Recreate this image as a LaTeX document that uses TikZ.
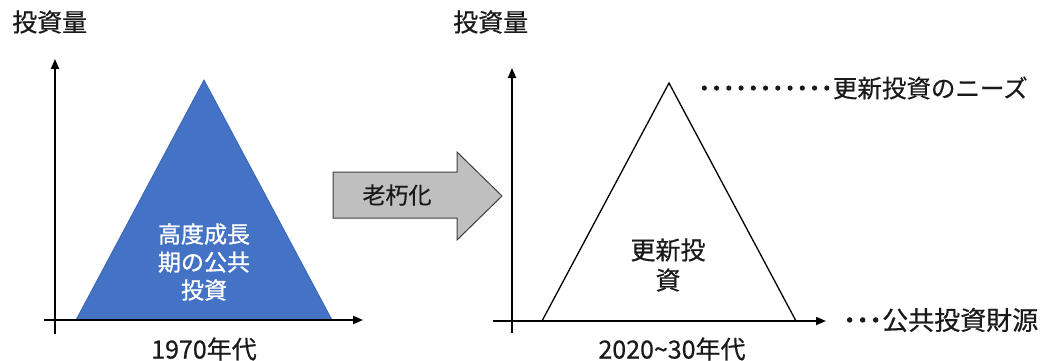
\documentclass[tikz,border=0pt]{standalone}
\usepackage{fontspec}
\newfontfamily\jp[FakeBold=0.6]{Noto Sans CJK JP}
\newfontfamily\jpw[FakeBold=1.2]{Noto Sans CJK JP}
\newfontfamily\jpdot[FakeBold=4]{Noto Sans CJK JP}
\usetikzlibrary{arrows.meta}
\definecolor{tblue}{HTML}{4472C4}
\definecolor{tblueedge}{HTML}{3A66B5}
\definecolor{agray}{HTML}{BFBFBF}
\definecolor{agrayedge}{HTML}{404040}
\definecolor{txt}{HTML}{1A1A1A}
\begin{document}
\begin{tikzpicture}[x=1pt,y=-1pt,
  axis/.style={line width=1.8pt, draw=black, -{Triangle[length=10pt,width=8pt]}},
  lbl/.style={font=\jp\fontsize{25}{28}\selectfont, inner sep=0pt, text=txt},
  inlbl/.style={font=\jp\fontsize{23}{28}\selectfont, inner sep=0pt, align=center}]
\useasboundingbox (0,0) rectangle (1041,361);

% ---------- left chart ----------
\coordinate (la) at (204,80);
\coordinate (lbl) at (76,320);
\coordinate (lbr) at (332,320);
\fill[tblue] (la) -- (lbl) -- (lbr) -- cycle;
\draw[tblueedge, line width=0.8pt] (la) -- (lbl) -- (lbr) -- cycle;

\coordinate (lyb) at (55,334);
\coordinate (lyt) at (55,59);
\coordinate (lxl) at (44,320);
\coordinate (lxr) at (363,320);
\draw[axis] (lyb) -- (lyt);
\draw[axis] (lxl) -- (lxr);

\node[inlbl, text=white, font=\jpw\fontsize{23}{28}\selectfont] (ltext) at (204,262) {高度成長\\期の公共\\投資};
\node[lbl, anchor=west] (lylab) at (12,22) {投資量};
\node[lbl] (lxlab) at (204,349) {1970年代};

% ---------- arrow ----------
\draw[fill=agray, draw=agrayedge, line width=1pt]
  (333,172) -- (457,172) -- (457,152) -- (502,196) -- (457,240) -- (457,218) -- (333,218) -- cycle;
\node[lbl, font=\jp\fontsize{23}{28}\selectfont] (aging) at (397,195) {老朽化};

% ---------- right chart ----------
\coordinate (ra) at (669,83);
\coordinate (rbl) at (542,321);
\coordinate (rbr) at (796,321);
\draw[fill=white, draw=black, line width=1.3pt, line join=miter] (ra) -- (rbl) -- (rbr) -- cycle;

\coordinate (ryb) at (512,333);
\coordinate (ryt) at (512,68);
\coordinate (rxl) at (493,321);
\coordinate (rxr) at (826,321);
\draw[axis] (ryb) -- (ryt);
\draw[axis] (rxl) -- (rxr);

\node[inlbl, text=txt, font=\jp\fontsize{25}{30}\selectfont] (rtext) at (668,265) {更新投\\資};
\node[lbl, anchor=west] (rylab) at (453,22) {投資量};
\node[lbl] (rxlab) at (672,349) {2020\textasciitilde30年代};

\node[lbl, anchor=west, font=\jp\fontsize{24.5}{28}\selectfont] (needs) at (698,88) {{\jpdot ･･･････････}更新投資のニーズ};
\node[lbl, anchor=west, font=\jp\fontsize{26}{28}\selectfont] (funds) at (843,320) {{\jpdot ･･･}公共投資財源};
\end{tikzpicture}
\end{document}
